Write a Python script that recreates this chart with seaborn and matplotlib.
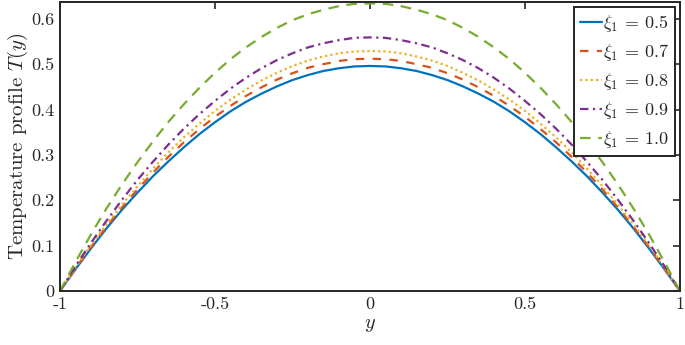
import numpy as np
import pandas as pd
import matplotlib
matplotlib.use("Agg")
import matplotlib.pyplot as plt
import seaborn as sns

sns.set_style("white")
plt.rcParams['font.family'] = ['cmr10', 'DejaVu Serif']
plt.rcParams['mathtext.fontset'] = 'cm'
plt.rcParams['axes.unicode_minus'] = False

# data (y from -1 to 1 in steps of 0.05)
y = [-1.0, -0.95, -0.9, -0.85, -0.8, -0.75, -0.7, -0.65, -0.6, -0.55, -0.5,
     -0.45, -0.4, -0.35, -0.3, -0.25, -0.2, -0.15, -0.1, -0.05, 0.0,
     0.05, 0.1, 0.15, 0.2, 0.25, 0.3, 0.35, 0.4, 0.45, 0.5,
     0.55, 0.6, 0.65, 0.7, 0.75, 0.8, 0.85, 0.9, 0.95, 1.0]
T_05 = [0, 0.048, 0.094, 0.138, 0.179, 0.217, 0.253, 0.286, 0.317, 0.346, 0.372,
        0.396, 0.417, 0.435, 0.451, 0.465, 0.476, 0.485, 0.491, 0.495, 0.496,
        0.495, 0.491, 0.485, 0.476, 0.465, 0.451, 0.435, 0.417, 0.396, 0.372,
        0.346, 0.317, 0.286, 0.253, 0.217, 0.179, 0.138, 0.094, 0.048, 0]
T_07 = [0, 0.050, 0.097, 0.142, 0.184, 0.224, 0.261, 0.296, 0.328, 0.357, 0.384,
        0.408, 0.430, 0.449, 0.466, 0.480, 0.492, 0.500, 0.507, 0.511, 0.512,
        0.511, 0.507, 0.500, 0.492, 0.480, 0.466, 0.449, 0.430, 0.408, 0.384,
        0.357, 0.328, 0.296, 0.261, 0.224, 0.184, 0.142, 0.097, 0.050, 0]
T_08 = [0, 0.052, 0.101, 0.147, 0.190, 0.231, 0.270, 0.306, 0.339, 0.369, 0.397,
        0.422, 0.444, 0.464, 0.481, 0.496, 0.508, 0.517, 0.524, 0.528, 0.529,
        0.528, 0.524, 0.517, 0.508, 0.496, 0.481, 0.464, 0.444, 0.422, 0.397,
        0.369, 0.339, 0.306, 0.270, 0.231, 0.190, 0.147, 0.101, 0.052, 0]
T_09 = [0, 0.055, 0.106, 0.155, 0.201, 0.245, 0.285, 0.323, 0.358, 0.390, 0.419,
        0.446, 0.470, 0.491, 0.509, 0.524, 0.537, 0.546, 0.553, 0.558, 0.559,
        0.558, 0.553, 0.546, 0.537, 0.524, 0.509, 0.491, 0.470, 0.446, 0.419,
        0.390, 0.358, 0.323, 0.285, 0.245, 0.201, 0.155, 0.106, 0.055, 0]
T_10 = [0, 0.064, 0.125, 0.182, 0.235, 0.284, 0.330, 0.373, 0.412, 0.448, 0.481,
        0.511, 0.537, 0.560, 0.580, 0.597, 0.610, 0.620, 0.628, 0.633, 0.634,
        0.633, 0.628, 0.620, 0.610, 0.597, 0.580, 0.560, 0.537, 0.511, 0.481,
        0.448, 0.412, 0.373, 0.330, 0.284, 0.235, 0.182, 0.125, 0.064, 0]

labels = [r'$\xi_1\,=\,0.5$', r'$\xi_1\,=\,0.7$', r'$\xi_1\,=\,0.8$',
          r'$\xi_1\,=\,0.9$', r'$\xi_1\,=\,1.0$']
series = [T_05, T_07, T_08, T_09, T_10]
colors = ['#0072BD', '#D95319', '#EDB120', '#7E2F8E', '#77AC30']
styles = ['-', (0, (3.8, 3.8)), (0, (1.0, 1.4)), (0, (3.8, 2.0, 1.0, 2.0)), (0, (4.8, 3.4))]

fig = plt.figure(figsize=(6.85, 3.45), dpi=100)
ax = fig.add_axes([0.0876, 0.1565, 0.905, 0.8377])

for T, lab, c, ls in zip(series, labels, colors, styles):
    df = pd.DataFrame({'y': y, 'T': T})
    sns.lineplot(data=df, x='y', y='T', ax=ax, color=c, linestyle=ls,
                 linewidth=1.6, label=lab)

ax.set_xlim(-1, 1)
ax.set_ylim(0, 0.637)
ax.set_xticks([-1, -0.5, 0, 0.5, 1])
ax.set_xticklabels(['-1', '-0.5', '0', '0.5', '1'])
ax.set_yticks([0, 0.1, 0.2, 0.3, 0.4, 0.5, 0.6])
ax.set_yticklabels(['0', '0.1', '0.2', '0.3', '0.4', '0.5', '0.6'])
ax.tick_params(direction='in', length=5, width=1.2, top=True, right=True,
               labelsize=13, colors='#262626', pad=4)
for s in ax.spines.values():
    s.set_linewidth(1.4)
    s.set_color('#262626')

ax.set_xlabel(r'$y$', fontsize=14.5, color='#262626', labelpad=3)
ax.set_ylabel(r'Temperature profile $T(y)$', fontsize=15, color='#262626', labelpad=1)

leg = ax.legend(loc='upper right', fontsize=13, handlelength=1.2, handletextpad=0.1,
                labelspacing=0.45, borderpad=0.3, borderaxespad=0.3,
                fancybox=False, framealpha=1, edgecolor='#262626')
leg.get_frame().set_linewidth(1.4)

fig.savefig('out.png', dpi=100)
